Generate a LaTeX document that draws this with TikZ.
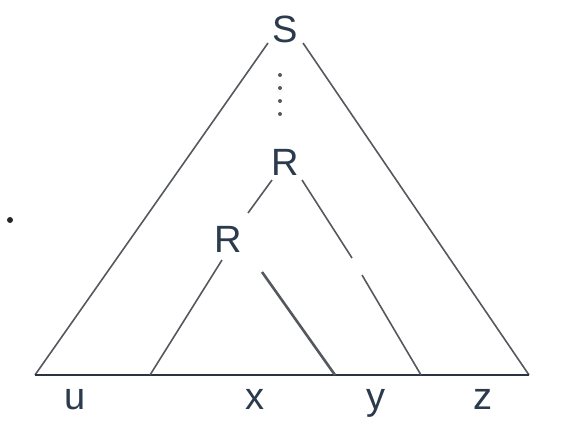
\documentclass[tikz,border=0pt]{standalone}
\usepackage{fontspec}
\setmainfont{Liberation Sans}
\definecolor{txt}{HTML}{2B3A4C}
\definecolor{ln}{HTML}{55595F}
\begin{document}
\begin{tikzpicture}[x=1pt,y=-1pt,
  lbl/.style={inner sep=0pt,anchor=base,text=txt,font=\fontsize{38}{40}\selectfont},
  edge/.style={draw=ln,line width=1.6pt}]
\useasboundingbox[fill=white] (0,0) rectangle (576,431);
% labels
\node[lbl] (S) at (285,42) {S};
\node[lbl] (R1) at (285,175) {R};
\node[lbl] (R2) at (228,252) {R};
\node[lbl] (u) at (75,409) {u};
\node[lbl] (x) at (255,409) {x};
\node[lbl] (y) at (376,409) {y};
\node[lbl] (z) at (483,409) {z};
% line end points
\coordinate (sl) at (268,43);
\coordinate (sr) at (303,43);
\coordinate (bl) at (35,375);
\coordinate (br) at (529,375);
\coordinate (r1l) at (272,180);
\coordinate (r1lb) at (248,213);
\coordinate (r1r) at (302,180);
\coordinate (r1ra) at (352,258);
\coordinate (r1rb) at (362,275);
\coordinate (r1e) at (421,375);
\coordinate (r2l) at (222,260);
\coordinate (r2le) at (150,375);
\coordinate (r2r) at (262,272);
\coordinate (r2re) at (335,375);
% lines
\draw[edge] (sl) -- (bl);
\draw[edge] (sr) -- (br);
\draw[edge,draw=txt!90!black] (bl) -- (br);
\draw[edge] (r1l) -- (r1lb);
\draw[edge] (r1r) -- (r1ra);
\draw[edge] (r1rb) -- (r1e);
\draw[edge] (r2l) -- (r2le);
\draw[edge,line width=2.6pt] (r2r) -- (r2re);
% dotted ellipsis
\foreach \yy in {75,88,101,114} \fill[ln] (280,\yy) circle (2);
% stray dot
\fill[black!85] (10,220) circle (3);
\end{tikzpicture}
\end{document}
